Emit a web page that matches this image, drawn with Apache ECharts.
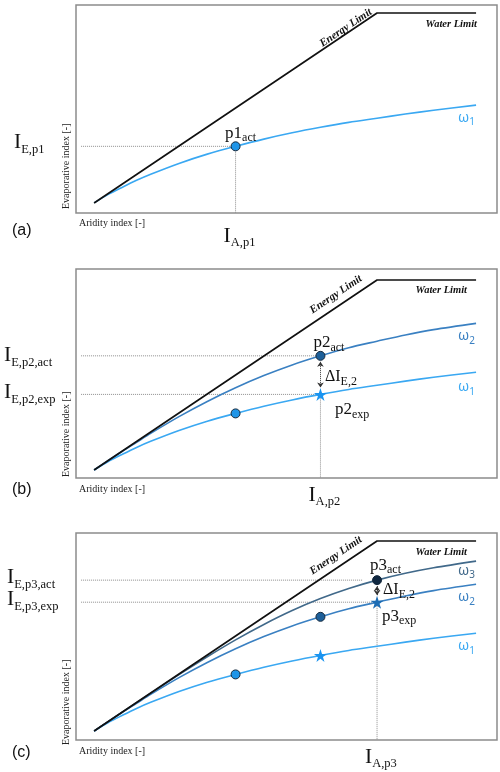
<!DOCTYPE html>
<html><head><meta charset="utf-8">
<script src="https://cdn.jsdelivr.net/npm/echarts@6/dist/echarts.min.js"></script>
<style>html,body{margin:0;padding:0;background:#fff}#c{width:500px;height:772px}</style>
</head><body><div id="c"></div>
<script>
// ---- data (aridity index vs evaporative index) ----
const aridity = [0, 0.05, 0.1, 0.15, 0.2, 0.3, 0.4, 0.5, 0.6, 0.7, 0.8, 0.9, 1.0, 1.1, 1.2, 1.35];
const omega1  = [0, 0.045, 0.083, 0.119, 0.151, 0.208, 0.257, 0.298, 0.336, 0.369, 0.398, 0.424, 0.446, 0.468, 0.488, 0.515];
const omega2  = [0, 0.050, 0.099, 0.146, 0.193, 0.281, 0.361, 0.433, 0.497, 0.553, 0.601, 0.644, 0.678, 0.711, 0.739, 0.772];
const omega3  = [0, 0.050, 0.100, 0.150, 0.199, 0.297, 0.391, 0.480, 0.561, 0.634, 0.697, 0.750, 0.794, 0.830, 0.859, 0.894];
const limitX  = [0, 1, 1.35];
const limitY  = [0, 1, 1];
const pointA  = [0.5, 0.8, 1.0];   // I_A,p1  I_A,p2  I_A,p3
const panelNames = ['(a)', '(b)', '(c)'];
const curveNames = ['1', '2', '3'];

const idx = a => aridity.indexOf(a);
const guideLeft = -0.046;

const panels = [
  {top: 5,   height: 208, ymin: -0.053, ymax: 1.042},
  {top: 269, height: 209, ymin: -0.042, ymax: 1.058},
  {top: 533, height: 207, ymin: -0.047, ymax: 1.042}
];

const C1 = '#3aa8f2', C2 = '#3a80c2', C3 = '#41698a';
const M1 = '#1f95e8', M2 = '#1d5f99', M3 = '#0f2740';
const S1 = '#1a94f0', S2 = '#1c6cb4';
const STAR = 'path://M50,2 L61.8,37.6 L99,37.6 L69,59.6 L80.4,95 L50,73.2 L19.6,95 L31,59.6 L1,37.6 L38.2,37.6 Z';

const series = [];
function seg(i, pts, color, width, type, z) {
  series.push({type: 'line', xAxisIndex: i, yAxisIndex: i, data: pts, symbol: 'none', showSymbol: false,
    lineStyle: {color, width, type}, silent: true, z: z || 2, animation: false});
}
function curve(i, ys, color) {
  series.push({type: 'line', xAxisIndex: i, yAxisIndex: i, data: aridity.map((x, k) => [x, ys[k]]),
    smooth: 0.3, symbol: 'none', showSymbol: false,
    lineStyle: {color, width: 1.6}, silent: true, z: 3, animation: false});
}
function mark(i, x, y, symbol, size, color) {
  series.push({type: 'scatter', xAxisIndex: i, yAxisIndex: i, data: [[x, y]], symbol, symbolSize: size,
    itemStyle: {color, borderColor: '#15293d', borderWidth: symbol === 'circle' ? 1 : 0, opacity: 1},
    silent: true, z: 6, animation: false});
}
function arrow(i, x, y0, y1) {
  series.push({type: 'line', xAxisIndex: i, yAxisIndex: i, data: [], silent: true, animation: false,
    markLine: {silent: true, animation: false, symbol: ['arrow', 'arrow'], symbolSize: [5, 5],
      lineStyle: {color: '#333', width: 1, type: 'dotted'}, label: {show: false},
      data: [[{coord: [x, y0]}, {coord: [x, y1]}]]}});
}
const guide = '#8e8e8e';
const d = v => v / 190;

// panel (a)
{
  const i = 0, a = pointA[0], y = omega1[idx(a)];
  seg(i, [[guideLeft, y], [a, y]], guide, 1, 'dotted');
  seg(i, [[a, y], [a, panels[i].ymin]], guide, 1, 'dotted');
  curve(i, omega1, C1);
  seg(i, limitX.map((x, k) => [x, limitY[k]]), '#111', 1.7, 'solid', 4);
  mark(i, a, y, 'circle', 9, M1);
}
// panel (b)
{
  const i = 1, a = pointA[1];
  const yA = omega2[idx(a)], yE = omega1[idx(a)];
  seg(i, [[guideLeft, yA], [a, yA]], guide, 1, 'dotted');
  seg(i, [[guideLeft, yE], [a, yE]], guide, 1, 'dotted');
  seg(i, [[a, yE], [a, panels[i].ymin]], guide, 1, 'dotted');
  curve(i, omega1, C1);
  curve(i, omega2, C2);
  seg(i, limitX.map((x, k) => [x, limitY[k]]), '#111', 1.7, 'solid', 4);
  arrow(i, a, yA - d(6), yE + d(7));
  mark(i, pointA[0], omega1[idx(pointA[0])], 'circle', 9, M1);
  mark(i, a, yA, 'circle', 9, M2);
  mark(i, a, yE, STAR, 13, S1);
}
// panel (c)
{
  const i = 2, a = pointA[2], b = pointA[1];
  const yA = omega3[idx(a)], yE = omega2[idx(a)];
  seg(i, [[guideLeft, yA], [0.95, yA]], guide, 1, 'dotted');
  seg(i, [[guideLeft, yE], [a, yE]], guide, 1, 'dotted');
  seg(i, [[a, yE], [a, panels[i].ymin]], guide, 1, 'dotted');
  curve(i, omega1, C1);
  curve(i, omega2, C2);
  curve(i, omega3, C3);
  seg(i, limitX.map((x, k) => [x, limitY[k]]), '#111', 1.7, 'solid', 4);
  arrow(i, a, yA - d(6), yE + d(7));
  mark(i, pointA[0], omega1[idx(pointA[0])], 'circle', 9, M1);
  mark(i, b, omega1[idx(b)], STAR, 13, S1);
  mark(i, b, omega2[idx(b)], 'circle', 9, M2);
  mark(i, a, yA, 'circle', 9, M3);
  mark(i, a, yE, STAR, 13, S2);
}

const chart = echarts.init(document.getElementById('c'), null, {renderer: 'canvas'});
chart.setOption({
  animation: false,
  backgroundColor: '#fff',
  grid: panels.map(p => ({left: 76, width: 421, top: p.top, height: p.height, show: true,
    borderColor: '#8c8c8c', borderWidth: 1.5, backgroundColor: 'rgba(0,0,0,0)', containLabel: false})),
  xAxis: panels.map((p, i) => ({type: 'value', gridIndex: i, min: -0.064, max: 1.424, show: false})),
  yAxis: panels.map((p, i) => ({type: 'value', gridIndex: i, min: p.ymin, max: p.ymax, show: false})),
  series
});

// ---- text annotations anchored on data coordinates ----
const P = (i, x, y) => chart.convertToPixel({gridIndex: i}, [x, y]);
const serif = 'Liberation Serif';
const rich = {
  I:  {fontFamily: serif, fontSize: 21.5, fill: '#111'},
  s:  {fontFamily: serif, fontSize: 12.5, fill: '#111', padding: [14, 0, 0, 0]},
  p:  {fontFamily: serif, fontSize: 17, fill: '#111'},
  ps: {fontFamily: serif, fontSize: 12, fill: '#111', padding: [10, 0, 0, 0]},
  D:  {fontFamily: serif, fontSize: 16, fill: '#111'},
  Ds: {fontFamily: serif, fontSize: 12, fill: '#111', padding: [10, 0, 0, 0]},
  w1: {fontFamily: 'Noto Sans', fontSize: 14, fill: C1}, w1s: {fontFamily: 'Noto Sans', fontSize: 10, fill: C1, padding: [9, 0, 0, 0]},
  w2: {fontFamily: 'Noto Sans', fontSize: 14, fill: C2}, w2s: {fontFamily: 'Noto Sans', fontSize: 10, fill: C2, padding: [9, 0, 0, 0]},
  w3: {fontFamily: 'Noto Sans', fontSize: 14, fill: C3}, w3s: {fontFamily: 'Noto Sans', fontSize: 10, fill: C3, padding: [9, 0, 0, 0]}
};
const g = [];
function txt(x, y, text, style, extra) {
  g.push(Object.assign({type: 'text', x, y, silent: true, z: 100,
    style: Object.assign({text, fill: '#111', align: 'left', verticalAlign: 'middle', rich,
      fontFamily: serif, fontSize: 12}, style || {})}, extra || {}));
}
const yLab = (sub) => '{I|I}{s|' + sub + '}';
const pLab = (n, sub) => '{p|p' + n + '}{ps|' + sub + '}';
const wLab = (k) => '{w' + k + '|ω}{w' + k + 's|' + curveNames[k - 1] + '}';

const letterY = [231, 490, 753];
const aridY = [223.5, 489, 751];
const evapBottom = [209, 477, 745];
const iaDown = [23, 17, 17];
const energyAnchor = [[0.89, -6], [0.855, -13], [0.855, -13]];
const waterRight = [477, 467, 467];
const waterDown = [11, 10, 11];

panels.forEach((p, i) => {
  const bottom = p.top + p.height;
  txt(12, letterY[i], panelNames[i], {fontFamily: 'Liberation Sans', fontSize: 16});
  txt(79, aridY[i], 'Aridity index [-]', {fontSize: 10, fill: '#222'});
  txt(0, 0, 'Evaporative index [-]', {fontSize: 10, fill: '#222'}, {x: 66, y: evapBottom[i], rotation: Math.PI / 2});
  // limits labels
  const o = P(i, 0, 0), t = P(i, 1, 1);
  const ang = Math.atan2(o[1] - t[1], t[0] - o[0]);
  const ea = energyAnchor[i];
  const ep = P(i, ea[0], ea[0]);
  txt(0, 0, 'Energy Limit', {fontSize: 11, fontStyle: 'italic', fontWeight: 'bold', align: 'center'},
      {x: ep[0], y: ep[1] + ea[1], rotation: ang});
  const wp = P(i, limitX[2], limitY[2]);
  txt(waterRight[i], wp[1] + waterDown[i], 'Water Limit', {fontSize: 10.5, fontStyle: 'italic', fontWeight: 'bold', align: 'right'});
  // x label
  const ax = P(i, pointA[i], 0)[0];
  txt(ax - 12, bottom + iaDown[i], yLab('A,p' + (i + 1)));
});

// omega labels
const wEnd = (i, arr) => P(i, aridity[aridity.length - 1], arr[arr.length - 1])[1];
txt(475, wEnd(0, omega1) + 13, wLab(1), {align: 'right'});
txt(475, wEnd(1, omega2) + 13, wLab(2), {align: 'right'});
txt(475, wEnd(1, omega1) + 15, wLab(1), {align: 'right'});
txt(475, wEnd(2, omega3) + 10, wLab(3), {align: 'right'});
txt(475, wEnd(2, omega2) + 13, wLab(2), {align: 'right'});
txt(475, wEnd(2, omega1) + 13, wLab(1), {align: 'right'});

// panel (a) point labels
{
  const q = P(0, pointA[0], omega1[idx(pointA[0])]);
  txt(14, q[1] - 4, yLab('E,p1'));
  txt(q[0] - 10.5, q[1] - 13, pLab(1, 'act'));
}
// panel (b)
{
  const qa = P(1, pointA[1], omega2[idx(pointA[1])]);
  const qe = P(1, pointA[1], omega1[idx(pointA[1])]);
  txt(4, qa[1], yLab('E,p2,act'));
  txt(4, qe[1] - 2, yLab('E,p2,exp'));
  txt(qa[0] - 7, qa[1] - 13, pLab(2, 'act'));
  txt(qe[0] + 14.5, qe[1] + 15, pLab(2, 'exp'));
  txt(qa[0] + 4.5, (qa[1] + qe[1]) / 2 + 2, '{D|ΔI}{Ds|E,2}');
}
// panel (c)
{
  const qa = P(2, pointA[2], omega3[idx(pointA[2])]);
  const qe = P(2, pointA[2], omega2[idx(pointA[2])]);
  txt(7, qa[1] - 2.5, yLab('E,p3,act'));
  txt(7, qe[1] - 2.5, yLab('E,p3,exp'));
  txt(qa[0] - 7, qa[1] - 15, pLab(3, 'act'));
  txt(qe[0] + 5, qe[1] + 14, pLab(3, 'exp'));
  txt(qa[0] + 6, (qa[1] + qe[1]) / 2 - 1.5, '{D|ΔI}{Ds|E,2}');
}

chart.setOption({graphic: g});
</script>
</body></html>
